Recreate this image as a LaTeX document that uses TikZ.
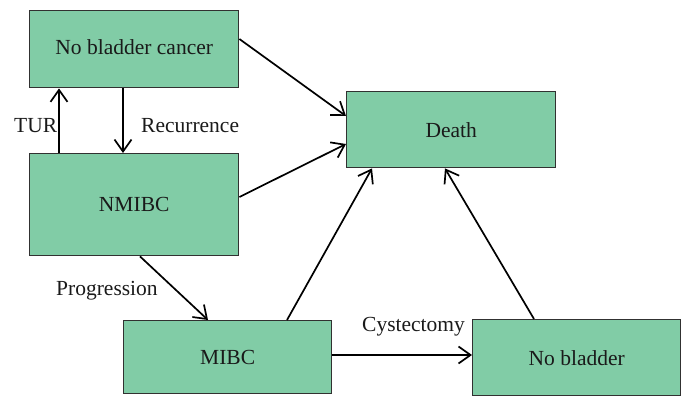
\documentclass[tikz,border=0pt]{standalone}
\usepackage{fontspec}
\setmainfont{Liberation Serif}
\usetikzlibrary{arrows.meta}
\definecolor{boxgreen}{HTML}{81CCA6}
\definecolor{ink}{HTML}{1A1A1A}
\tikzset{
  statebox/.style={draw=ink!90, line width=1.4pt, fill=boxgreen, text=ink, font=\fontsize{21.5}{24}\selectfont, inner sep=0pt},
  conn/.style={line width=1.7pt, draw=black, -{Straight Barb[length=12pt,width=17pt,line width=1.7pt]}},
  lbl/.style={text=ink, font=\fontsize{21.5}{24}\selectfont, inner sep=0pt}
}
\begin{document}
\begin{tikzpicture}[x=1pt,y=-1pt]
\useasboundingbox (0,0) rectangle (683,396);
\node[statebox, minimum width=209pt, minimum height=77pt, anchor=north west] (nbc) at (29,10) {\raisebox{5pt}{No bladder cancer}};
\node[statebox, minimum width=209pt, minimum height=102pt, anchor=north west] (nmibc) at (29,153) {NMIBC};
\node[statebox, minimum width=209pt, minimum height=76pt, anchor=north west] (death) at (346,91) {Death};
\node[statebox, minimum width=208pt, minimum height=73pt, anchor=north west] (mibc) at (123,320) {MIBC};
\node[statebox, minimum width=208pt, minimum height=76pt, anchor=north west] (nb) at (472,319) {No bladder};

\draw[conn] (nmibc.north west -| 59,0) -- (nbc.south west -| 59,0);
\draw[conn] (nbc.south west -| 123,0) -- (nmibc.north west -| 123,0);
\node[lbl, anchor=west] (tur) at (14,126) {TUR};
\node[lbl, anchor=west] (rec) at (141,126) {Recurrence};

\draw[conn] (nbc.north east |- 0,39) -- (death.north west |- 0,116);
\draw[conn] (nmibc.north east |- 0,197) -- (death.north west |- 0,144);
\draw[conn] (nmibc.south west -| 140,0) -- (mibc.north west -| 208,0);
\node[lbl, anchor=west] (prog) at (56,291) {Progression};
\draw[conn] (mibc.north west -| 287,0) -- (death.south west -| 372,0);
\draw[conn] (nb.north west -| 534,0) -- (death.south west -| 445,0);
\draw[conn] (mibc.north east |- 0,355) -- (nb.north west |- 0,355);
\node[lbl, anchor=west] (cys) at (362,327) {Cystectomy};
\end{tikzpicture}
\end{document}
